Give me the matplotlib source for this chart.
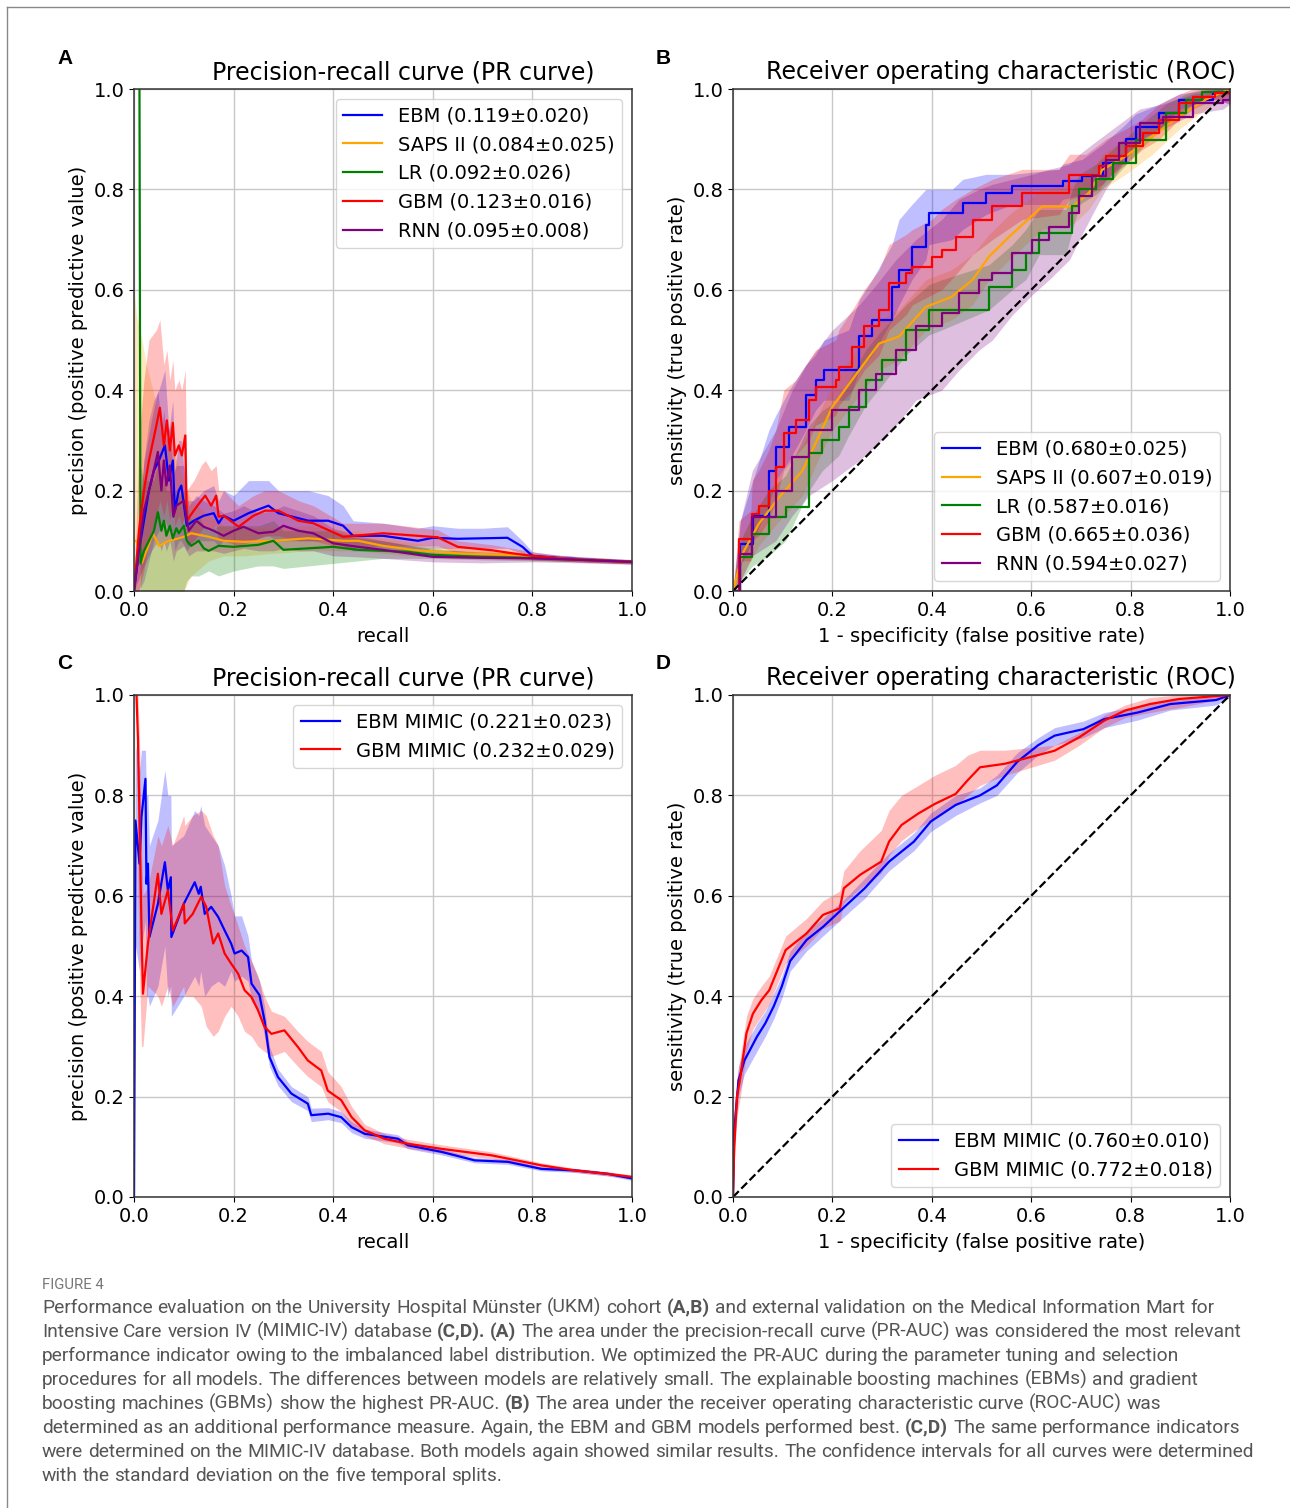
"""Figure 4: PR and ROC curves on the UKM cohort (A, B) and MIMIC-IV (C, D)."""

import matplotlib

matplotlib.use("Agg")
import matplotlib.pyplot as plt
from matplotlib.font_manager import FontProperties
from matplotlib.lines import Line2D

W, H = 1290, 1508

# ---------------------------------------------------------------- panel A (PR, UKM)
A_EBM_X = [0.0, 0.01, 0.02, 0.03, 0.04, 0.05, 0.062, 0.07, 0.078, 0.082, 0.09, 0.095, 0.106, 0.12, 0.14, 0.16,
           0.17, 0.18, 0.2, 0.23, 0.27, 0.29, 0.31, 0.35, 0.39, 0.42, 0.44, 0.5, 0.57, 0.6, 0.65, 0.7, 0.75,
           0.78, 0.8, 0.85, 0.9, 1.0]
A_EBM_Y = [0.0, 0.08, 0.14, 0.2, 0.24, 0.26, 0.29, 0.22, 0.26, 0.16, 0.2, 0.21, 0.13, 0.14, 0.15, 0.155,
           0.135, 0.15, 0.14, 0.155, 0.17, 0.155, 0.15, 0.14, 0.14, 0.13, 0.11, 0.11, 0.1, 0.106, 0.104, 0.105,
           0.106, 0.088, 0.07, 0.066, 0.063, 0.058]
A_EBM_LO = [0.0, 0.0, 0.02, 0.06, 0.1, 0.12, 0.14, 0.12, 0.12, 0.08, 0.1, 0.1, 0.08, 0.1, 0.1, 0.1,
            0.09, 0.1, 0.1, 0.1, 0.11, 0.1, 0.1, 0.1, 0.1, 0.09, 0.08, 0.08, 0.08, 0.085, 0.085, 0.085,
            0.085, 0.075, 0.062, 0.06, 0.058, 0.054]
A_EBM_HI = [0.0, 0.16, 0.26, 0.34, 0.38, 0.4, 0.44, 0.32, 0.38, 0.24, 0.3, 0.3, 0.18, 0.18, 0.2, 0.21,
            0.18, 0.2, 0.19, 0.22, 0.22, 0.2, 0.2, 0.2, 0.19, 0.17, 0.14, 0.135, 0.125, 0.13, 0.125, 0.125,
            0.128, 0.1, 0.078, 0.072, 0.068, 0.062]

A_SAPS_X = [0.0, 0.005, 0.016, 0.025, 0.038, 0.05, 0.07, 0.09, 0.1, 0.115, 0.15, 0.18, 0.22, 0.28, 0.35,
            0.42, 0.45, 0.5, 0.56, 0.65, 0.75, 0.85, 1.0]
A_SAPS_Y = [0.1, 0.1, 0.056, 0.08, 0.115, 0.09, 0.1, 0.105, 0.108, 0.115, 0.108, 0.1, 0.098, 0.1, 0.105,
            0.1, 0.1, 0.09, 0.082, 0.075, 0.072, 0.065, 0.058]
A_SAPS_LO = [0.0, 0.0, 0.0, 0.0, 0.0, 0.0, 0.0, 0.0, 0.0, 0.03, 0.06, 0.07, 0.07, 0.075, 0.08,
             0.08, 0.08, 0.075, 0.07, 0.065, 0.063, 0.06, 0.055]
A_SAPS_HI = [0.6, 0.55, 0.5, 0.45, 0.4, 0.35, 0.3, 0.25, 0.22, 0.18, 0.15, 0.13, 0.125, 0.125, 0.13,
             0.12, 0.12, 0.105, 0.095, 0.085, 0.08, 0.07, 0.062]

A_LR_X = [0.011, 0.013, 0.02, 0.03, 0.04, 0.048, 0.055, 0.06, 0.065, 0.072, 0.078, 0.085, 0.09, 0.1, 0.106,
          0.115, 0.13, 0.14, 0.15, 0.17, 0.2, 0.25, 0.28, 0.3, 0.35, 0.4, 0.45, 0.5, 0.55, 0.6, 0.7, 0.8,
          0.9, 1.0]
A_LR_Y = [1.0, 0.055, 0.08, 0.1, 0.12, 0.157, 0.12, 0.14, 0.11, 0.13, 0.105, 0.125, 0.115, 0.13, 0.1,
          0.09, 0.1, 0.085, 0.08, 0.09, 0.088, 0.092, 0.1, 0.082, 0.085, 0.088, 0.082, 0.08, 0.078, 0.072,
          0.068, 0.066, 0.062, 0.058]
A_LR_LO = [0.9, 0.0, 0.0, 0.0, 0.0, 0.0, 0.0, 0.0, 0.0, 0.0, 0.0, 0.0, 0.0, 0.0, 0.02,
           0.03, 0.03, 0.035, 0.04, 0.03, 0.04, 0.05, 0.05, 0.045, 0.05, 0.055, 0.06, 0.065, 0.065, 0.065,
           0.062, 0.06, 0.058, 0.055]
A_LR_HI = [1.0, 0.25, 0.22, 0.22, 0.22, 0.25, 0.2, 0.22, 0.2, 0.2, 0.19, 0.2, 0.19, 0.2, 0.17,
           0.14, 0.15, 0.13, 0.12, 0.13, 0.13, 0.13, 0.14, 0.12, 0.12, 0.12, 0.105, 0.1, 0.092, 0.085,
           0.076, 0.072, 0.066, 0.062]

A_GBM_X = [0.0, 0.01, 0.02, 0.03, 0.045, 0.052, 0.06, 0.066, 0.072, 0.078, 0.082, 0.09, 0.096, 0.103, 0.106,
           0.12, 0.135, 0.143, 0.155, 0.165, 0.17, 0.18, 0.21, 0.24, 0.263, 0.29, 0.31, 0.33, 0.36, 0.42,
           0.5, 0.61, 0.65, 0.72, 0.76, 0.8, 0.85, 0.9, 1.0]
A_GBM_Y = [0.0, 0.12, 0.2, 0.26, 0.33, 0.365, 0.29, 0.34, 0.28, 0.335, 0.27, 0.29, 0.27, 0.31, 0.14,
           0.16, 0.18, 0.19, 0.17, 0.19, 0.148, 0.15, 0.128, 0.15, 0.16, 0.16, 0.15, 0.14, 0.135, 0.108,
           0.115, 0.107, 0.088, 0.081, 0.075, 0.07, 0.065, 0.062, 0.058]
A_GBM_LO = [0.0, 0.0, 0.04, 0.1, 0.15, 0.18, 0.15, 0.18, 0.14, 0.18, 0.13, 0.15, 0.13, 0.16, 0.09,
            0.1, 0.12, 0.13, 0.12, 0.13, 0.1, 0.1, 0.09, 0.1, 0.11, 0.11, 0.105, 0.1, 0.1, 0.085,
            0.09, 0.09, 0.075, 0.07, 0.066, 0.062, 0.06, 0.057, 0.054]
A_GBM_HI = [0.0, 0.3, 0.42, 0.5, 0.52, 0.54, 0.45, 0.48, 0.42, 0.46, 0.4, 0.42, 0.4, 0.44, 0.2,
            0.22, 0.25, 0.26, 0.24, 0.25, 0.2, 0.2, 0.17, 0.19, 0.2, 0.2, 0.19, 0.18, 0.17, 0.135,
            0.135, 0.122, 0.1, 0.092, 0.085, 0.078, 0.071, 0.067, 0.062]

A_RNN_X = [0.0, 0.02, 0.035, 0.048, 0.055, 0.06, 0.065, 0.072, 0.079, 0.085, 0.1, 0.11, 0.125, 0.14, 0.16,
           0.18, 0.2, 0.22, 0.25, 0.28, 0.3, 0.33, 0.36, 0.4, 0.45, 0.5, 0.6, 0.7, 0.8, 0.9, 1.0]
A_RNN_Y = [0.0, 0.16, 0.22, 0.277, 0.2, 0.26, 0.21, 0.25, 0.148, 0.17, 0.18, 0.12, 0.14, 0.128, 0.12,
           0.11, 0.12, 0.128, 0.115, 0.118, 0.13, 0.12, 0.115, 0.095, 0.088, 0.082, 0.068, 0.066, 0.065,
           0.062, 0.058]
A_RNN_LO = [0.0, 0.05, 0.08, 0.1, 0.08, 0.1, 0.08, 0.1, 0.06, 0.08, 0.09, 0.07, 0.08, 0.08, 0.08,
            0.075, 0.08, 0.085, 0.08, 0.08, 0.085, 0.08, 0.08, 0.07, 0.068, 0.065, 0.058, 0.056, 0.058,
            0.056, 0.053]
A_RNN_HI = [0.0, 0.26, 0.34, 0.4, 0.32, 0.36, 0.3, 0.33, 0.23, 0.25, 0.25, 0.17, 0.19, 0.18, 0.17,
            0.155, 0.16, 0.17, 0.155, 0.16, 0.17, 0.16, 0.15, 0.125, 0.11, 0.1, 0.082, 0.078, 0.074,
            0.068, 0.063]

# ---------------------------------------------------------------- panel B (ROC, UKM)
B_EBM_X = [0.0, 0.015, 0.04, 0.072, 0.086, 0.113, 0.146, 0.166, 0.183, 0.233, 0.254, 0.28, 0.32, 0.334,
           0.36, 0.388, 0.394, 0.441, 0.462, 0.509, 0.562, 0.656, 0.663, 0.703, 0.744, 0.79, 0.81, 0.858,
           0.898, 0.965, 1.0]
B_EBM_Y = [0.0, 0.094, 0.15, 0.24, 0.287, 0.327, 0.39, 0.42, 0.44, 0.44, 0.507, 0.54, 0.606, 0.64,
           0.686, 0.73, 0.753, 0.753, 0.773, 0.793, 0.806, 0.806, 0.816, 0.826, 0.852, 0.9, 0.925, 0.952,
           0.979, 0.995, 1.0]
B_EBM_LO = [0.0, 0.05, 0.1, 0.17, 0.22, 0.26, 0.32, 0.36, 0.38, 0.38, 0.44, 0.47, 0.54, 0.57,
            0.62, 0.66, 0.69, 0.7, 0.72, 0.75, 0.77, 0.77, 0.78, 0.79, 0.81, 0.86, 0.89, 0.92,
            0.96, 0.98, 0.97]
B_EBM_HI = [0.0, 0.14, 0.22, 0.32, 0.35, 0.4, 0.45, 0.47, 0.5, 0.52, 0.58, 0.62, 0.69, 0.74,
            0.77, 0.8, 0.8, 0.8, 0.82, 0.83, 0.83, 0.84, 0.85, 0.86, 0.89, 0.93, 0.95, 0.97,
            0.99, 1.0, 1.0]

B_SAPS_X = [0.0, 0.019, 0.052, 0.093, 0.14, 0.166, 0.2, 0.254, 0.294, 0.334, 0.388, 0.44, 0.482, 0.515,
            0.556, 0.622, 0.683, 0.716, 0.743, 0.79, 0.844, 0.898, 0.951, 1.0]
B_SAPS_Y = [0.0, 0.074, 0.134, 0.187, 0.24, 0.294, 0.367, 0.44, 0.493, 0.507, 0.566, 0.586, 0.62, 0.666,
            0.706, 0.766, 0.766, 0.793, 0.839, 0.866, 0.906, 0.945, 0.979, 1.0]
B_SAPS_LO = [0.0, 0.03, 0.09, 0.14, 0.19, 0.25, 0.32, 0.39, 0.44, 0.46, 0.52, 0.54, 0.57, 0.62,
             0.66, 0.72, 0.73, 0.76, 0.8, 0.83, 0.87, 0.92, 0.96, 0.99]
B_SAPS_HI = [0.0, 0.11, 0.17, 0.23, 0.29, 0.34, 0.41, 0.49, 0.54, 0.56, 0.62, 0.64, 0.67, 0.71,
             0.75, 0.8, 0.81, 0.83, 0.87, 0.9, 0.93, 0.96, 0.99, 1.0]

B_LR_X = [0.0, 0.015, 0.039, 0.072, 0.106, 0.153, 0.18, 0.213, 0.233, 0.267, 0.3, 0.348, 0.394, 0.42,
          0.515, 0.562, 0.589, 0.616, 0.67, 0.683, 0.697, 0.73, 0.764, 0.81, 0.871, 0.911, 0.944, 1.0]
B_LR_Y = [0.0, 0.068, 0.114, 0.148, 0.168, 0.274, 0.3, 0.327, 0.367, 0.42, 0.46, 0.52, 0.56, 0.56,
          0.606, 0.64, 0.673, 0.713, 0.713, 0.766, 0.8, 0.82, 0.852, 0.899, 0.952, 0.979, 0.995, 1.0]
B_LR_LO = [0.0, 0.02, 0.05, 0.07, 0.1, 0.2, 0.24, 0.27, 0.31, 0.37, 0.41, 0.47, 0.51, 0.52,
           0.56, 0.6, 0.62, 0.67, 0.67, 0.72, 0.77, 0.79, 0.82, 0.87, 0.93, 0.96, 0.98, 0.99]
B_LR_HI = [0.0, 0.1, 0.15, 0.2, 0.23, 0.33, 0.36, 0.38, 0.42, 0.48, 0.52, 0.57, 0.61, 0.62,
           0.65, 0.69, 0.72, 0.76, 0.76, 0.8, 0.83, 0.85, 0.88, 0.92, 0.97, 0.99, 1.0, 1.0]

B_GBM_X = [0.0, 0.012, 0.036, 0.039, 0.052, 0.072, 0.086, 0.102, 0.126, 0.153, 0.166, 0.207, 0.213, 0.24,
           0.264, 0.294, 0.314, 0.348, 0.361, 0.4, 0.42, 0.448, 0.482, 0.522, 0.582, 0.656, 0.677, 0.71,
           0.737, 0.75, 0.79, 0.824, 0.858, 0.898, 0.925, 0.97, 1.0]
B_GBM_Y = [0.0, 0.104, 0.104, 0.154, 0.17, 0.2, 0.247, 0.314, 0.34, 0.38, 0.407, 0.42, 0.447, 0.487,
           0.527, 0.56, 0.613, 0.633, 0.646, 0.666, 0.68, 0.706, 0.739, 0.766, 0.793, 0.793, 0.829, 0.829,
           0.846, 0.866, 0.886, 0.912, 0.939, 0.972, 0.985, 0.992, 1.0]
B_GBM_LO = [0.0, 0.06, 0.06, 0.1, 0.11, 0.14, 0.18, 0.24, 0.27, 0.3, 0.33, 0.35, 0.37, 0.4,
            0.44, 0.47, 0.52, 0.55, 0.57, 0.59, 0.6, 0.63, 0.67, 0.7, 0.74, 0.75, 0.78, 0.79,
            0.8, 0.82, 0.85, 0.88, 0.9, 0.94, 0.96, 0.98, 0.97]
B_GBM_HI = [0.0, 0.14, 0.16, 0.22, 0.24, 0.28, 0.32, 0.4, 0.42, 0.46, 0.48, 0.5, 0.52, 0.56,
            0.6, 0.64, 0.69, 0.71, 0.72, 0.74, 0.76, 0.78, 0.8, 0.82, 0.84, 0.84, 0.87, 0.87,
            0.89, 0.9, 0.92, 0.94, 0.97, 0.99, 1.0, 1.0, 1.0]

B_RNN_X = [0.0, 0.015, 0.039, 0.086, 0.119, 0.153, 0.2, 0.254, 0.288, 0.328, 0.368, 0.42, 0.455, 0.495,
           0.522, 0.562, 0.602, 0.636, 0.677, 0.697, 0.723, 0.75, 0.777, 0.818, 0.865, 0.925, 0.986, 1.0]
B_RNN_Y = [0.0, 0.074, 0.148, 0.2, 0.267, 0.32, 0.36, 0.4, 0.433, 0.48, 0.527, 0.553, 0.593, 0.62,
           0.633, 0.673, 0.7, 0.726, 0.753, 0.786, 0.826, 0.859, 0.892, 0.932, 0.945, 0.972, 0.979, 0.992]
B_RNN_LO = [0.0, 0.02, 0.07, 0.1, 0.15, 0.19, 0.22, 0.26, 0.29, 0.33, 0.38, 0.4, 0.44, 0.48,
            0.5, 0.55, 0.59, 0.62, 0.66, 0.7, 0.75, 0.8, 0.84, 0.9, 0.92, 0.95, 0.96, 0.97]
B_RNN_HI = [0.0, 0.14, 0.24, 0.32, 0.4, 0.46, 0.52, 0.57, 0.61, 0.66, 0.7, 0.74, 0.78, 0.8,
            0.81, 0.82, 0.83, 0.84, 0.85, 0.87, 0.89, 0.91, 0.93, 0.96, 0.97, 0.99, 1.0, 1.0]

# ---------------------------------------------------------------- panel C (PR, MIMIC-IV)
C_EBM_X = [0.0, 0.003, 0.011, 0.015, 0.023, 0.025, 0.028, 0.031, 0.048, 0.062, 0.068, 0.074, 0.075, 0.1,
           0.122, 0.13, 0.134, 0.142, 0.155, 0.169, 0.182, 0.195, 0.202, 0.216, 0.229, 0.236, 0.252, 0.262,
           0.272, 0.289, 0.316, 0.349, 0.356, 0.39, 0.416, 0.437, 0.463, 0.53, 0.55, 0.617, 0.684, 0.751,
           0.818, 0.885, 0.952, 1.0]
C_EBM_Y = [0.0, 0.75, 0.664, 0.757, 0.833, 0.624, 0.664, 0.518, 0.584, 0.667, 0.611, 0.637, 0.518, 0.584,
           0.627, 0.604, 0.618, 0.564, 0.578, 0.558, 0.531, 0.505, 0.485, 0.491, 0.478, 0.425, 0.402, 0.352,
           0.279, 0.239, 0.206, 0.186, 0.163, 0.166, 0.159, 0.139, 0.126, 0.116, 0.103, 0.09, 0.073, 0.07,
           0.056, 0.053, 0.046, 0.037]
C_EBM_LO = [0.0, 0.5, 0.45, 0.5, 0.55, 0.4, 0.4, 0.38, 0.42, 0.5, 0.4, 0.42, 0.36, 0.4,
            0.44, 0.42, 0.45, 0.4, 0.42, 0.43, 0.42, 0.45, 0.43, 0.44, 0.43, 0.39, 0.37, 0.32,
            0.26, 0.222, 0.19, 0.172, 0.15, 0.154, 0.148, 0.128, 0.117, 0.108, 0.096, 0.084, 0.068, 0.065,
            0.052, 0.049, 0.042, 0.033]
C_EBM_HI = [0.0, 0.9, 0.85, 0.89, 0.89, 0.8, 0.8, 0.7, 0.75, 0.85, 0.8, 0.8, 0.7, 0.72,
            0.77, 0.76, 0.78, 0.74, 0.72, 0.7, 0.66, 0.6, 0.56, 0.56, 0.52, 0.47, 0.43, 0.38,
            0.3, 0.255, 0.22, 0.2, 0.177, 0.178, 0.17, 0.15, 0.135, 0.124, 0.11, 0.096, 0.078, 0.075,
            0.06, 0.057, 0.05, 0.041]

C_GBM_X = [0.005, 0.008, 0.011, 0.015, 0.018, 0.028, 0.048, 0.055, 0.068, 0.078, 0.1, 0.102, 0.118, 0.135,
           0.145, 0.159, 0.169, 0.182, 0.195, 0.209, 0.222, 0.236, 0.249, 0.262, 0.276, 0.302, 0.329, 0.349,
           0.376, 0.389, 0.416, 0.437, 0.463, 0.503, 0.55, 0.617, 0.718, 0.818, 0.885, 0.952, 1.0]
C_GBM_Y = [1.0, 0.91, 0.757, 0.538, 0.405, 0.505, 0.644, 0.564, 0.611, 0.531, 0.584, 0.545, 0.564, 0.598,
           0.578, 0.505, 0.525, 0.485, 0.465, 0.445, 0.412, 0.398, 0.372, 0.339, 0.325, 0.332, 0.299, 0.272,
           0.252, 0.212, 0.193, 0.159, 0.133, 0.116, 0.106, 0.096, 0.083, 0.063, 0.053, 0.046, 0.04]
C_GBM_LO = [1.0, 0.6, 0.45, 0.3, 0.3, 0.42, 0.4, 0.38, 0.42, 0.38, 0.42, 0.4, 0.4, 0.38,
            0.34, 0.32, 0.33, 0.36, 0.38, 0.36, 0.33, 0.32, 0.3, 0.29, 0.28, 0.29, 0.26, 0.24,
            0.22, 0.19, 0.17, 0.14, 0.122, 0.106, 0.097, 0.088, 0.076, 0.058, 0.049, 0.042, 0.036]
C_GBM_HI = [1.0, 1.0, 0.91, 0.7, 0.6, 0.62, 0.72, 0.7, 0.74, 0.7, 0.76, 0.74, 0.76, 0.77,
            0.76, 0.72, 0.7, 0.62, 0.58, 0.54, 0.5, 0.47, 0.44, 0.4, 0.37, 0.36, 0.33, 0.31,
            0.29, 0.25, 0.22, 0.18, 0.145, 0.126, 0.115, 0.104, 0.09, 0.068, 0.057, 0.05, 0.044]

# ---------------------------------------------------------------- panel D (ROC, MIMIC-IV)
D_EBM_X = [0.0, 0.0025, 0.011, 0.023, 0.048, 0.065, 0.082, 0.098, 0.115, 0.148, 0.181, 0.231, 0.265, 0.314,
           0.364, 0.398, 0.448, 0.497, 0.531, 0.572, 0.614, 0.647, 0.705, 0.747, 0.814, 0.88, 0.972, 1.0]
D_EBM_Y = [0.0, 0.133, 0.232, 0.272, 0.319, 0.346, 0.38, 0.419, 0.47, 0.512, 0.538, 0.584, 0.615, 0.668,
           0.708, 0.748, 0.781, 0.8, 0.82, 0.867, 0.9, 0.919, 0.932, 0.952, 0.965, 0.982, 0.99, 1.0]
D_EBM_LO = [0.0, 0.1, 0.2, 0.245, 0.29, 0.32, 0.355, 0.395, 0.45, 0.49, 0.52, 0.565, 0.595, 0.65,
            0.69, 0.728, 0.76, 0.785, 0.8, 0.845, 0.88, 0.9, 0.915, 0.935, 0.95, 0.97, 0.98, 0.995]
D_EBM_HI = [0.0, 0.17, 0.26, 0.3, 0.345, 0.37, 0.405, 0.44, 0.49, 0.53, 0.555, 0.6, 0.635, 0.685,
            0.725, 0.765, 0.8, 0.815, 0.84, 0.885, 0.915, 0.935, 0.948, 0.965, 0.978, 0.99, 0.997, 1.0]

D_GBM_X = [0.0, 0.0025, 0.008, 0.015, 0.027, 0.04, 0.057, 0.073, 0.106, 0.148, 0.181, 0.215, 0.223, 0.256,
           0.298, 0.314, 0.339, 0.373, 0.406, 0.448, 0.472, 0.497, 0.547, 0.597, 0.647, 0.697, 0.747, 0.789,
           0.839, 0.897, 1.0]
D_GBM_Y = [0.0, 0.1, 0.2, 0.24, 0.326, 0.365, 0.392, 0.412, 0.492, 0.525, 0.562, 0.575, 0.615, 0.642,
           0.668, 0.708, 0.741, 0.764, 0.783, 0.803, 0.83, 0.856, 0.863, 0.876, 0.889, 0.916, 0.949, 0.969,
           0.982, 0.992, 1.0]
D_GBM_LO = [0.0, 0.07, 0.16, 0.2, 0.29, 0.335, 0.36, 0.385, 0.465, 0.5, 0.535, 0.55, 0.585, 0.615,
            0.645, 0.68, 0.71, 0.735, 0.755, 0.78, 0.8, 0.82, 0.84, 0.855, 0.87, 0.9, 0.935, 0.955,
            0.965, 0.975, 0.995]
D_GBM_HI = [0.0, 0.14, 0.24, 0.28, 0.36, 0.395, 0.42, 0.44, 0.52, 0.555, 0.59, 0.61, 0.65, 0.69,
            0.73, 0.77, 0.8, 0.82, 0.84, 0.86, 0.88, 0.89, 0.89, 0.895, 0.9, 0.925, 0.96, 0.98,
            0.995, 1.0, 1.0]

CHANCE = [0.0, 1.0]

UKM_PR_LABELS = ["EBM (0.119\u00b10.020)", "SAPS II (0.084\u00b10.025)", "LR (0.092\u00b10.026)",
                 "GBM (0.123\u00b10.016)", "RNN (0.095\u00b10.008)"]
UKM_ROC_LABELS = ["EBM (0.680\u00b10.025)", "SAPS II (0.607\u00b10.019)", "LR (0.587\u00b10.016)",
                  "GBM (0.665\u00b10.036)", "RNN (0.594\u00b10.027)"]
MIMIC_PR_LABELS = ["EBM MIMIC (0.221\u00b10.023)", "GBM MIMIC (0.232\u00b10.029)"]
MIMIC_ROC_LABELS = ["EBM MIMIC (0.760\u00b10.010)", "GBM MIMIC (0.772\u00b10.018)"]

CAPTION = [
    [("Performance evaluation on the University Hospital M\u00fcnster (UKM) cohort", False), ("(A,B)", True),
     ("and external validation on the Medical Information Mart for", False)],
    [("Intensive Care version IV (MIMIC-IV) database", False), ("(C,D).", True), ("(A)", True),
     ("The area under the precision-recall curve (PR-AUC) was considered the most relevant", False)],
    [("performance indicator owing to the imbalanced label distribution. We optimized the PR-AUC during the "
      "parameter tuning and selection", False)],
    [("procedures for all models. The differences between models are relatively small. The explainable "
      "boosting machines (EBMs) and gradient", False)],
    [("boosting machines (GBMs) show the highest PR-AUC.", False), ("(B)", True),
     ("The area under the receiver operating characteristic curve (ROC-AUC) was", False)],
    [("determined as an additional performance measure. Again, the EBM and GBM models performed best.", False),
     ("(C,D)", True), ("The same performance indicators", False)],
    [("were determined on the MIMIC-IV database. Both models again showed similar results. The confidence "
      "intervals for all curves were determined", False)],
    [("with the standard deviation on the five temporal splits.", False)],
]

COLORS = ["blue", "orange", "green", "red", "purple"]

plt.rcParams.update({
    "font.size": 14,
    "axes.titlesize": 17,
    "axes.labelsize": 14,
    "xtick.labelsize": 14,
    "ytick.labelsize": 14,
    "legend.fontsize": 14,
    "axes.edgecolor": "#333333",
    "axes.linewidth": 1.1,
})

fig = plt.figure(figsize=(W / 100, H / 100), dpi=100)


def _rect(left, top, right, bottom):
    return [left / W, 1 - bottom / H, (right - left) / W, (bottom - top) / H]


def _setup(ax, title, xlabel, ylabel):
    ax.set_xlim(0, 1)
    ax.set_ylim(0, 1)
    ax.set_xticks([0, 0.2, 0.4, 0.6, 0.8, 1.0])
    ax.set_yticks([0, 0.2, 0.4, 0.6, 0.8, 1.0])
    ax.grid(True, color="#c8c8c8", linewidth=1.0)
    ax.set_axisbelow(True)
    ax.set_title(title, x=0.54, pad=7)
    ax.set_xlabel(xlabel, labelpad=5)
    ax.set_ylabel(ylabel, labelpad=4)


def _curve(ax, x, y, lo, hi, color, label, step=False):
    ax.fill_between(x, lo, hi, color=color, alpha=0.25, linewidth=0)
    ax.plot(x, y, color=color, lw=1.6, label=label, drawstyle="steps-post" if step else "default")


# A
ax = fig.add_axes(_rect(134, 89, 632, 591))
_setup(ax, "Precision-recall curve (PR curve)", "recall", "precision (positive predictive value)")
series = [(A_EBM_X, A_EBM_Y, A_EBM_LO, A_EBM_HI), (A_SAPS_X, A_SAPS_Y, A_SAPS_LO, A_SAPS_HI),
          (A_LR_X, A_LR_Y, A_LR_LO, A_LR_HI), (A_GBM_X, A_GBM_Y, A_GBM_LO, A_GBM_HI),
          (A_RNN_X, A_RNN_Y, A_RNN_LO, A_RNN_HI)]
for (x, y, lo, hi), c, lab in zip(series, COLORS, UKM_PR_LABELS):
    _curve(ax, x, y, lo, hi, c, lab)
ax.legend(loc="upper right")

# B
ax = fig.add_axes(_rect(733, 89, 1230, 591))
_setup(ax, "Receiver operating characteristic (ROC)", "1 - specificity (false positive rate)",
       "sensitivity (true positive rate)")
series = [(B_EBM_X, B_EBM_Y, B_EBM_LO, B_EBM_HI, True), (B_SAPS_X, B_SAPS_Y, B_SAPS_LO, B_SAPS_HI, False),
          (B_LR_X, B_LR_Y, B_LR_LO, B_LR_HI, True), (B_GBM_X, B_GBM_Y, B_GBM_LO, B_GBM_HI, True),
          (B_RNN_X, B_RNN_Y, B_RNN_LO, B_RNN_HI, True)]
for (x, y, lo, hi, st), c, lab in zip(series, COLORS, UKM_ROC_LABELS):
    _curve(ax, x, y, lo, hi, c, lab, step=st)
ax.plot(CHANCE, CHANCE, "k--", lw=1.6)
ax.legend(loc="lower right")

# C
ax = fig.add_axes(_rect(134, 695, 632, 1197))
_setup(ax, "Precision-recall curve (PR curve)", "recall", "precision (positive predictive value)")
_curve(ax, C_EBM_X, C_EBM_Y, C_EBM_LO, C_EBM_HI, "blue", MIMIC_PR_LABELS[0])
_curve(ax, C_GBM_X, C_GBM_Y, C_GBM_LO, C_GBM_HI, "red", MIMIC_PR_LABELS[1])
ax.legend(loc="upper right")

# D
ax = fig.add_axes(_rect(733, 695, 1230, 1197))
_setup(ax, "Receiver operating characteristic (ROC)", "1 - specificity (false positive rate)",
       "sensitivity (true positive rate)")
_curve(ax, D_EBM_X, D_EBM_Y, D_EBM_LO, D_EBM_HI, "blue", MIMIC_ROC_LABELS[0])
_curve(ax, D_GBM_X, D_GBM_Y, D_GBM_LO, D_GBM_HI, "red", MIMIC_ROC_LABELS[1])
ax.plot(CHANCE, CHANCE, "k--", lw=1.6)
ax.legend(loc="lower right")

# panel letters
for letter, (px, py) in zip("ABCD", [(57, 58), (656, 58), (57, 663), (656, 663)]):
    fig.text(px / W, 1 - py / H, letter, family=["Liberation Sans", "DejaVu Sans"], fontweight="bold",
             fontsize=15, va="center", ha="left")

# page frame (left and top rules)
fig.add_artist(Line2D([7 / W, 7 / W], [0, 1 - 7 / H], transform=fig.transFigure, color="#888888", lw=1))
fig.add_artist(Line2D([7 / W, 1], [1 - 7 / H, 1 - 7 / H], transform=fig.transFigure, color="#888888", lw=1))

# caption
cap_family = ["Liberation Sans Narrow", "Roboto", "DejaVu Sans"]
cap_color = "#555555"
renderer = fig.canvas.get_renderer()


def _adv(s, size, bold):
    fp = FontProperties(family=cap_family, size=size, weight="bold" if bold else "normal")
    w1 = renderer.get_text_width_height_descent("|" + s + "|", fp, ismath=False)[0]
    w0 = renderer.get_text_width_height_descent("||", fp, ismath=False)[0]
    return w1 - w0


# fit caption size so the longest line spans the same width as in the original
probe = CAPTION[6][0][0]
cap_size = 12 * 1210 / _adv(probe, 12, False)

fig.text(42 / W, 1 - 1289 / H, "FIGURE 4", family=cap_family, fontsize=cap_size * 0.78, color="#777777",
         va="baseline", ha="left")
for i, line in enumerate(CAPTION):
    x = 42.0
    yb = 1313 + 24 * i
    space = _adv(" ", cap_size, False)
    for txt, bold in line:
        for word in txt.split(" "):
            fig.text(x / W, 1 - yb / H, word, family=cap_family, fontsize=cap_size, color=cap_color,
                     fontweight="bold" if bold else "normal", va="baseline", ha="left")
            x += _adv(word, cap_size, bold) + space

fig.savefig("out.png", dpi=100)
